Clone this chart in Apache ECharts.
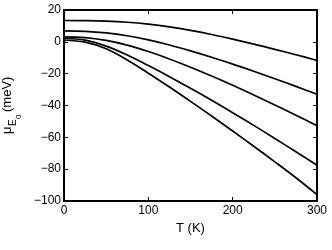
<!DOCTYPE html>
<html><head><meta charset="utf-8">
<script src="https://cdn.jsdelivr.net/npm/echarts@6/dist/echarts.min.js"></script>
<style>html,body{margin:0;padding:0;background:#fff}#c{width:332px;height:250px}</style>
</head><body><div id="c"></div>
<script>
var temps = [0, 25, 50, 75, 100, 125, 150, 175, 200, 225, 250, 275, 300];
var curve1 = [13.4, 13.3, 13.0, 12.3, 11.1, 9.4, 7.2, 4.6, 1.7, -1.4, -4.7, -8.1, -11.7];
var curve2 = [6.9, 6.6, 5.6, 3.8, 1.2, -2.0, -5.7, -9.7, -14.0, -18.5, -23.2, -28.0, -32.9];
var curve3 = [3.1, 2.7, 0.9, -2.1, -6.1, -10.8, -16.0, -21.5, -27.3, -33.4, -39.7, -46.1, -52.7];
var curve4 = [2.1, 1.1, -2.7, -8.3, -14.9, -21.9, -29.2, -36.7, -44.5, -52.5, -60.7, -69.1, -77.5];
var curve5 = [1.0, -0.2, -4.4, -11.4, -19.7, -28.4, -37.4, -46.6, -56.0, -65.6, -75.4, -85.4, -96.0];
var xTicks = [0, 100, 200, 300];
var yTicks = [-100, -80, -60, -40, -20, 0, 20];

var chart = echarts.init(document.getElementById('c'), null, {renderer: 'canvas'});
var FONT = 'Liberation Sans, Arial, Helvetica, sans-serif';
function mk(d){ return temps.map(function(t,i){return [t,d[i]];}); }
function fmt(v){ return String(v).replace('-', '\u2212'); }
var lineStyle = {color:'#000', width:1.7};
var seriesData = [curve1, curve2, curve3, curve4, curve5];
var axisLine = {show:true, onZero:false, lineStyle:{color:'#000', width:2}};
var tick = {show:true, inside:true, length:4, lineStyle:{color:'#000', width:1}};
chart.setOption({
  animation:false,
  grid:{left:64, right:15, top:10, bottom:49, containLabel:false},
  xAxis:[
    {type:'value', min:xTicks[0], max:xTicks[xTicks.length-1], interval:100, position:'bottom',
     axisLine:axisLine, axisTick:tick, splitLine:{show:false},
     axisLabel:{color:'#000', fontSize:12, fontFamily:FONT, margin:4, formatter:fmt},
     name:'T (K)', nameLocation:'middle', nameGap:21,
     nameTextStyle:{color:'#000', fontSize:13, fontFamily:FONT}},
    {type:'value', min:xTicks[0], max:xTicks[xTicks.length-1], interval:100, position:'top',
     axisLine:axisLine, axisTick:tick, axisLabel:{show:false}, splitLine:{show:false}}
  ],
  yAxis:[
    {type:'value', min:yTicks[0], max:yTicks[yTicks.length-1], interval:20, position:'left',
     axisLine:axisLine, axisTick:tick, splitLine:{show:false},
     axisLabel:{color:'#000', fontSize:12, fontFamily:FONT, margin:3, formatter:fmt}},
    {type:'value', min:yTicks[0], max:yTicks[yTicks.length-1], interval:20, position:'right',
     axisLine:axisLine, axisTick:tick, axisLabel:{show:false}, splitLine:{show:false}}
  ],
  series: seriesData.map(function(d){
    return {type:'line', data:mk(d), smooth:0.35, showSymbol:false, symbol:'none', lineStyle:lineStyle, silent:true};
  }),
  graphic:[{
    type:'group', x:14, y:134, rotation:Math.PI/2,
    children:[
      {type:'text', x:0, y:0, style:{text:'\u03bc', font:'13px '+FONT, fill:'#000', verticalAlign:'bottom', align:'left'}},
      {type:'text', x:8, y:4, style:{text:'E', font:'10px '+FONT, fill:'#000', verticalAlign:'bottom', align:'left'}},
      {type:'text', x:15, y:9, style:{text:'0', font:'8px '+FONT, fill:'#000', verticalAlign:'bottom', align:'left'}},
      {type:'text', x:22, y:0, style:{text:'(meV)', font:'13px '+FONT, fill:'#000', verticalAlign:'bottom', align:'left'}}
    ]
  }]
});
</script></body></html>
